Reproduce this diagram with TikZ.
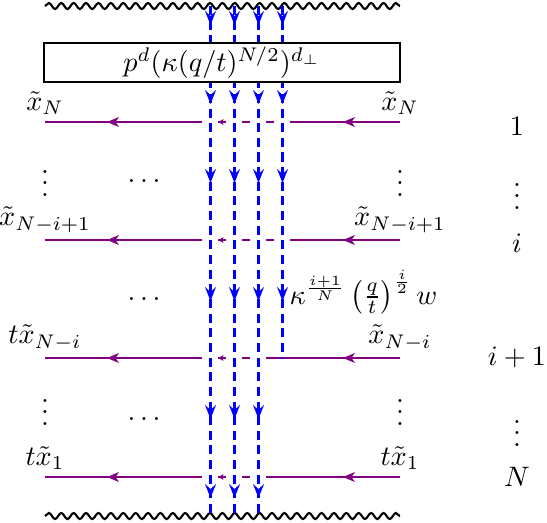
\documentclass[tikz,border=0pt]{standalone}
\usepackage{amsmath}
\usetikzlibrary{decorations.pathmorphing}
\definecolor{pur}{rgb}{0.5,0,0.5}
\begin{document}
\begin{tikzpicture}[x=0.355pt,y=-0.355pt,
  wavy/.style={line width=0.75pt, decorate, decoration={snake, amplitude=1.07pt, segment length=4.4pt}},
  fline/.style={draw=blue, line width=1.1pt, dash pattern=on 3.2pt off 2pt},
  pline/.style={draw=pur, line width=0.9pt},
  lab/.style={inner sep=2.5pt},
  txt/.style={inner sep=0pt},
  darr/.pic={\fill[blue] (0,0) -- (-5.5,-14) -- (0,-9) -- (5.5,-14) -- cycle;},
  larr/.pic={\fill[pur] (0,0) -- (12,-5) -- (8.5,0) -- (12,5) -- cycle;},
  sarr/.pic={\fill[pur] (0,0) -- (5,-3) -- (4,0) -- (5,3) -- cycle;}
]
\useasboundingbox (0,0) rectangle (547,522);
% wavy boundaries
\coordinate (wtl) at (45,6);   \coordinate (wtr) at (400,6);
\coordinate (wbl) at (45,516); \coordinate (wbr) at (400,516);
\draw[wavy] (wtl) -- (wtr);
\draw[wavy] (wbl) -- (wbr);
% purple lines
\foreach \r/\y in {1/122,2/240}{
  \coordinate (L\r) at (45,\y); \coordinate (R\r) at (400,\y);
  \draw[pline] (L\r) -- (202.5,\y);
  \draw[pline] (218.5,\y) -- (226.5,\y);
  \draw[pline] (242.5,\y) -- (250.5,\y);
  \draw[pline] (266.5,\y) -- (274.5,\y);
  \draw[pline] (290.5,\y) -- (R\r);
  \pic at (107,\y) {larr}; \pic at (343,\y) {larr}; \pic at (218.5,\y) {sarr};
}
\foreach \r/\y in {3/358,4/477}{
  \coordinate (L\r) at (45,\y); \coordinate (R\r) at (400,\y);
  \draw[pline] (L\r) -- (202.5,\y);
  \draw[pline] (218.5,\y) -- (226.5,\y);
  \draw[pline] (242.5,\y) -- (250.5,\y);
  \draw[pline] (266.5,\y) -- (R\r);
  \pic at (107,\y) {larr}; \pic at (343,\y) {larr}; \pic at (218.5,\y) {sarr};
}
% blue lines
\foreach \k/\x in {1/210.5,2/234.5,3/258.5}{
  \coordinate (Bt\k) at (\x,6); \coordinate (Bb\k) at (\x,516);
  \draw[fline] (Bt\k) -- (Bb\k);
  \foreach \t in {25,104,183,301,419,498}{ \pic at (\x,\t) {darr}; }
}
\coordinate (Bt4) at (282.5,6); \coordinate (Bb4) at (282.5,358);
\draw[fline] (Bt4) -- (Bb4);
\foreach \t in {25,104,183,301}{ \pic at (282.5,\t) {darr}; }
% box
\node[draw, line width=0.5pt, fill=white, inner sep=1pt,
      minimum width=356*0.355pt, minimum height=39*0.355pt] (box) at (222,62.5)
      {$p^d(\kappa(q/t)^{N/2})^{d_\perp}$};
% labels
\node[lab, above] (lN) at (L1) {$\tilde{x}_N$};
\node[lab, above] (rN) at (R1) {$\tilde{x}_N$};
\node[lab, above] (lNi1) at (L2) {$\tilde{x}_{N-i+1}$};
\node[lab, above] (rNi1) at (R2) {$\tilde{x}_{N-i+1}$};
\node[lab, above] (lNi) at (L3) {$t\tilde{x}_{N-i}$};
\node[lab, above] (rNi) at (R3) {$\tilde{x}_{N-i}$};
\node[lab, above] (l1) at (L4) {$t\tilde{x}_1$};
\node[lab, above] (r1) at (R4) {$t\tilde{x}_1$};
\node[txt] (vl1) at (45,175) {$\vdots$};
\node[txt] (vr1) at (400,175) {$\vdots$};
\node[txt] (vl2) at (45,404) {$\vdots$};
\node[txt] (vr2) at (400,404) {$\vdots$};
\node[txt] (d1) at (144,181) {$\ldots$};
\node[txt] (d2) at (144,299) {$\ldots$};
\node[txt] (d3) at (144,419) {$\ldots$};
\node[anchor=west, inner sep=0pt] (kap) at (289,292)
  {$\kappa^{\frac{i+1}{N}}\left(\frac{q}{t}\right)^{\frac{i}{2}}w$};
% row numbers
\node[txt] (n1) at (517,126) {$1$};
\node[txt] (n2) at (517,188) {$\vdots$};
\node[txt] (n3) at (517,243) {$i$};
\node[txt] (n4) at (517,357) {$i+1$};
\node[txt] (n5) at (517,425) {$\vdots$};
\node[txt] (n6) at (517,477) {$N$};
\end{tikzpicture}
\end{document}
